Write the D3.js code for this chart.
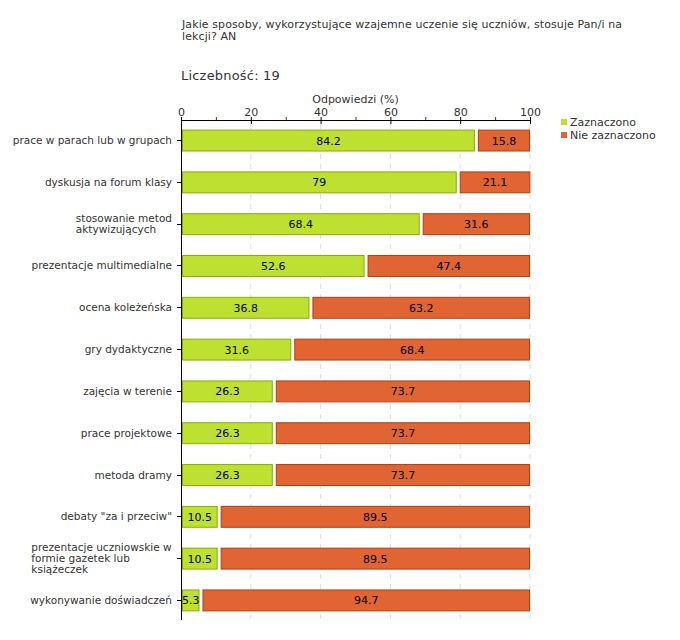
<!DOCTYPE html>
<html><head><meta charset="utf-8">
<script src="https://cdn.jsdelivr.net/npm/d3@7"></script>
<style>body{margin:0;background:#fff}</style>
</head><body>
<svg id="c" width="680" height="640"></svg>
<script>
const categories = [
  ["prace w parach lub w grupach"],
  ["dyskusja na forum klasy"],
  ["stosowanie metod", "aktywizujących"],
  ["prezentacje multimedialne"],
  ["ocena koleżeńska"],
  ["gry dydaktyczne"],
  ["zajęcia w terenie"],
  ["prace projektowe"],
  ["metoda dramy"],
  ["debaty \"za i przeciw\""],
  ["prezentacje uczniowskie w", "formie gazetek lub", "książeczek"],
  ["wykonywanie doświadczeń"]
];
const zaznaczono = [84.2, 79, 68.4, 52.6, 36.8, 31.6, 26.3, 26.3, 26.3, 10.5, 10.5, 5.3];
const nieZaznaczono = [15.8, 21.1, 31.6, 47.4, 63.2, 68.4, 73.7, 73.7, 73.7, 89.5, 89.5, 94.7];
const seriesNames = ["Zaznaczono", "Nie zaznaczono"];
const xTicks = [0, 20, 40, 60, 80, 100];
const minorTicks = [10, 30, 50, 70, 90];
const titleLines = ["Jakie sposoby, wykorzystujące wzajemne uczenie się uczniów, stosuje Pan/i na", "lekcji? AN"];
const countLabel = "Liczebność: 19";
const axisTitle = "Odpowiedzi (%)";

const font = "DejaVu Sans, Verdana, sans-serif";
const svg = d3.select("#c");
const x = d3.scaleLinear().domain([0, 100]).range([181, 530]);
const y = d3.scaleBand().domain(d3.range(categories.length)).range([120, 620]).paddingInner(0.5).paddingOuter(0.23);
const colors = {fill: ["#bde031", "#e06532"], stroke: ["#8cab00", "#b53b10"]};

// title
svg.append("text").attr("font-family", font).attr("font-size", 11).attr("fill", "#333").attr("letter-spacing", 0.1)
  .selectAll("tspan").data(titleLines).join("tspan")
  .attr("x", 182).attr("y", (d, i) => 28 + i * 12).text(d => d);
svg.append("text").attr("x", 181).attr("y", 80).attr("font-family", font).attr("font-size", 13)
  .attr("fill", "#333").attr("letter-spacing", 0.2).text(countLabel);
svg.append("text").attr("x", (x(0) + x(100)) / 2).attr("y", 103).attr("text-anchor", "middle")
  .attr("font-family", font).attr("font-size", 11).attr("fill", "#333").text(axisTitle);

// grid
svg.append("g").selectAll("line").data(xTicks.slice(1)).join("line")
  .attr("x1", d => x(d)).attr("x2", d => x(d)).attr("y1", 124).attr("y2", 620)
  .attr("stroke", "#ddd").attr("stroke-dasharray", "5,5");

// top axis
const ax = svg.append("g").attr("transform", "translate(0,120)")
  .call(d3.axisTop(x).tickValues(xTicks).tickSize(0).tickPadding(4));
ax.select(".domain").attr("stroke", "#000");
ax.selectAll("text").attr("font-family", font).attr("font-size", 11).attr("fill", "#333");
svg.append("g").selectAll("line").data(xTicks).join("line")
  .attr("x1", d => x(d) + 0.5).attr("x2", d => x(d) + 0.5).attr("y1", 117).attr("y2", 124).attr("stroke", "#000");
svg.append("g").selectAll("line").data(minorTicks).join("line")
  .attr("x1", d => x(d) + 0.5).attr("x2", d => x(d) + 0.5).attr("y1", 117).attr("y2", 120).attr("stroke", "#d00");

// left axis
svg.append("line").attr("x1", 181.5).attr("x2", 181.5).attr("y1", 120).attr("y2", 620).attr("stroke", "#000");
const cy = i => y(i) + y.bandwidth() / 2;
svg.append("g").selectAll("line").data(d3.range(categories.length)).join("line")
  .attr("x1", 177).attr("x2", 181).attr("y1", i => Math.round(cy(i)) + 0.5).attr("y2", i => Math.round(cy(i)) + 0.5).attr("stroke", "#000");

// category labels
const lab = svg.append("g").attr("font-family", font).attr("font-size", 10.5).attr("fill", "#333");
categories.forEach((lines, i) => {
  const multi = lines.length > 1;
  const t = lab.append("text").attr("text-anchor", multi ? "start" : "end");
  const startY = cy(i) + 4 - (lines.length - 1) * 5.5;
  lines.forEach((l, j) => {
    t.append("tspan").attr("x", 172).attr("y", startY + j * 11).text(l);
  });
  if (multi) {
    const w = t.node().getBBox().width;
    t.selectAll("tspan").attr("x", 172 - w);
  }
});

// bars
const series = [zaznaczono, nieZaznaczono];
const bars = svg.append("g");
categories.forEach((c, i) => {
  let acc = 0;
  series.forEach((s, k) => {
    const v = s[i];
    const x0 = x(acc) + (k === 0 ? 1.5 : 3.5);
    const x1 = x(acc + v) - 0.5;
    bars.append("rect").attr("x", x0).attr("y", y(i) + 0.5).attr("width", Math.max(0, x1 - x0))
      .attr("height", y.bandwidth()).attr("fill", colors.fill[k]).attr("stroke", colors.stroke[k]).attr("stroke-width", 1);
    bars.append("text").attr("x", (x0 + x1) / 2).attr("y", cy(i) + 4.5).attr("text-anchor", "middle")
      .attr("font-family", font).attr("font-size", 11).attr("fill", "#000").text(v);
    acc += v;
  });
});

// legend
const lg = svg.append("g").attr("font-family", font).attr("font-size", 11).attr("fill", "#333");
seriesNames.forEach((n, k) => {
  lg.append("rect").attr("x", 561).attr("y", 119 + k * 13).attr("width", 6).attr("height", 6).attr("fill", colors.fill[k]);
  lg.append("text").attr("x", 570).attr("y", 126 + k * 13).text(n);
});
</script>
</body></html>
